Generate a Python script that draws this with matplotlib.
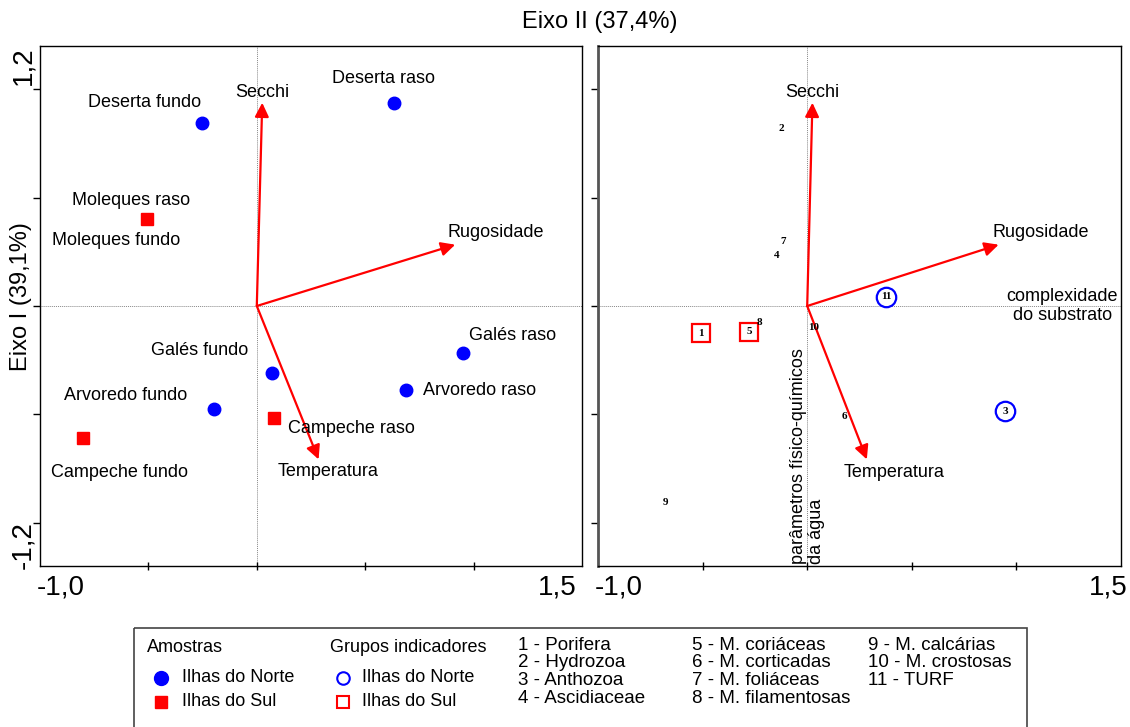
import matplotlib
matplotlib.use("Agg")
import matplotlib.pyplot as plt
from matplotlib.patches import Rectangle

plt.rcParams['font.family'] = ['Liberation Sans', 'DejaVu Sans']

# ---------------- data ----------------
sample_names = ["Deserta fundo", "Deserta raso", "Moleques", "Galés fundo", "Arvoredo fundo",
                "Campeche fundo", "Campeche raso", "Galés raso", "Arvoredo raso"]
sample_x = [-0.253, 0.633, -0.506, 0.070, -0.197, -0.802, 0.079, 0.951, 0.688]
sample_y = [0.845, 0.937, 0.400, -0.309, -0.475, -0.609, -0.517, -0.217, -0.388]
sample_group = ["Norte", "Norte", "Sul", "Norte", "Norte", "Sul", "Sul", "Norte", "Norte"]

env_names = ["Secchi", "Rugosidade", "Temperatura"]
env_x = [0.025, 0.915, 0.285]
env_y = [0.938, 0.283, -0.708]

species_ids = ["1", "2", "3", "4", "5", "6", "7", "8", "9", "10", "11"]
species_x = [-0.507, -0.124, 0.947, -0.144, -0.278, 0.177, -0.115, -0.230, -0.679, 0.033, 0.378]
species_y = [-0.125, 0.821, -0.485, 0.235, -0.120, -0.512, 0.300, -0.074, -0.909, -0.097, 0.042]
species_group = ["Sul", None, "Norte", None, "Sul", None, None, None, None, None, "Norte"]

species_legend = ["1 - Porifera", "2 - Hydrozoa", "3 - Anthozoa", "4 - Ascidiaceae",
                  "5 - M. coriáceas", "6 - M. corticadas", "7 - M. foliáceas", "8 - M. filamentosas",
                  "9 - M. calcárias", "10 - M. crostosas", "11 - TURF"]

axis1_label = "Eixo I (39,1%)"
axis2_label = "Eixo II (37,4%)"

# ---------------- layout / style ----------------
W, H = 1130, 727
RED = "#ff0000"
BLUE = "#0000ff"

fig = plt.figure(figsize=(W / 100, H / 100), dpi=100)

def px_axes(x0, y0, x1, y1):
    return fig.add_axes([x0 / W, 1 - y1 / H, (x1 - x0) / W, (y1 - y0) / H])

axL = px_axes(40, 46, 582, 566)
axR = px_axes(598, 46, 1121, 566)

for ax in (axL, axR):
    ax.set_xlim(-1.0, 1.5)
    ax.set_ylim(-1.2, 1.2)
    ax.set_xticks([-0.5, 0, 0.5, 1.0])
    ax.set_yticks([-1.0, -0.5, 0, 0.5, 1.0])
    ax.tick_params(axis='x', direction='inout', length=6, width=1, labelbottom=False)
    ax.tick_params(axis='y', direction='out', length=5, width=1, labelleft=False)
    ax.axhline(0, color='#888888', lw=0.7, ls=(0, (1, 1)), zorder=0)
    ax.axvline(0, color='#888888', lw=0.7, ls=(0, (1, 1)), zorder=0)
    for s in ax.spines.values():
        s.set_linewidth(1.0)
        s.set_color('black')
    # environmental arrows
    for ex, ey in zip(env_x, env_y):
        ax.annotate('', xy=(ex, ey), xytext=(0, 0),
                    arrowprops=dict(arrowstyle='-|>', color=RED, lw=1.6,
                                    mutation_scale=21, shrinkA=0, shrinkB=0))

axR.spines['left'].set_linewidth(2.0)
axR.spines['left'].set_color('#555555')

# ---- left panel: samples ----
for x, y, g in zip(sample_x, sample_y, sample_group):
    if g == "Norte":
        axL.plot(x, y, 'o', color=BLUE, ms=9, mec=BLUE, zorder=3)
    else:
        axL.plot(x, y, 's', color=RED, ms=8, mec=RED, zorder=3)

sample_label_texts = [["Deserta fundo"], ["Deserta raso"], ["Moleques raso", "Moleques fundo"],
                      ["Galés fundo"], ["Arvoredo fundo"], ["Campeche fundo"], ["Campeche raso"],
                      ["Galés raso"], ["Arvoredo raso"]]
sample_label_offsets = [[(-57, 20)], [(-11, 24)], [(-16, 19), (-31, -21)], [(-72, 22)],
                        [(-88, 13)], [(37, -35)], [(78, -10)], [(50, 18)], [(74, 0)]]
for x, y, texts, offs in zip(sample_x, sample_y, sample_label_texts, sample_label_offsets):
    for t, (dx, dy) in zip(texts, offs):
        axL.annotate(t, xy=(x, y), xytext=(dx, dy), textcoords='offset pixels',
                     ha='center', va='center', fontsize=13)

env_offsets_L = [(0, 10), (41, 12), (9, -12)]
env_offsets_R = [(0, 10), (42, 12), (27, -13)]
for ax, offs in ((axL, env_offsets_L), (axR, env_offsets_R)):
    for name, ex, ey, (dx, dy) in zip(env_names, env_x, env_y, offs):
        ax.annotate(name, xy=(ex, ey), xytext=(dx, dy), textcoords='offset pixels',
                    ha='center', va='center', fontsize=13)

# ---- right panel: species ----
for sid, x, y, g in zip(species_ids, species_x, species_y, species_group):
    axR.text(x, y, sid, ha='center', va='center', fontsize=8, fontweight='bold',
             family='Liberation Serif', zorder=4)
    if g == "Norte":
        axR.plot(x, y, 'o', ms=14, mfc='none', mec=BLUE, mew=1.6, zorder=3)
    elif g == "Sul":
        axR.plot(x, y, 's', ms=13, mfc='none', mec=RED, mew=1.6, zorder=3)

axR.text(1.22, 0.0, "complexidade\ndo substrato", ha='center', va='center',
         fontsize=13, linespacing=1.1)
axR.text(0.0, -1.19, "parâmetros físico-químicos\nda água", rotation=90,
         ha='center', va='bottom', multialignment='left', fontsize=13, linespacing=1.05)

# ---------------- overlay in pixel coords ----------------
ov = fig.add_axes([0, 0, 1, 1], zorder=-1)
ov.set_xlim(0, W)
ov.set_ylim(H, 0)
ov.axis('off')

ov.text(600, 22, axis2_label, ha='center', va='center', fontsize=17)
ov.text(21, 297, axis1_label, ha='center', va='center', rotation=90, fontsize=17)
ov.text(23, 66, "1,2", ha='center', va='center', rotation=90, fontsize=20)
ov.text(23, 545, "-1,2", ha='center', va='center', rotation=90, fontsize=20)
ov.text(37, 588, "-1,0", ha='left', va='center', fontsize=20)
ov.text(577, 588, "1,5", ha='right', va='center', fontsize=20)
ov.text(595, 588, "-1,0", ha='left', va='center', fontsize=20)
ov.text(1128, 588, "1,5", ha='right', va='center', fontsize=20)

# legend box
ov.add_patch(Rectangle((134, 628), 893, 110, fill=False, ec='#444444', lw=1.2, clip_on=False))
ov.text(147, 647, "Amostras", ha='left', va='center', fontsize=13)
ov.plot(161, 678, 'o', color=BLUE, ms=10)
ov.text(182, 678, "Ilhas do Norte", ha='left', va='center', fontsize=13)
ov.plot(161, 702, 's', color=RED, ms=9)
ov.text(182, 702, "Ilhas do Sul", ha='left', va='center', fontsize=13)

ov.text(330, 647, "Grupos indicadores", ha='left', va='center', fontsize=13)
ov.plot(343, 678, 'o', mfc='none', mec=BLUE, mew=1.5, ms=9)
ov.text(362, 678, "Ilhas do Norte", ha='left', va='center', fontsize=13)
ov.plot(343, 702, 's', mfc='none', mec=RED, mew=1.5, ms=9)
ov.text(362, 702, "Ilhas do Sul", ha='left', va='center', fontsize=13)

col_x = [518, 692, 868]
for i, t in enumerate(species_legend):
    col = i // 4
    row = i % 4
    ov.text(col_x[col], 645 + row * 17.7, t, ha='left', va='center', fontsize=13.5)

fig.savefig("out.png", dpi=100)
